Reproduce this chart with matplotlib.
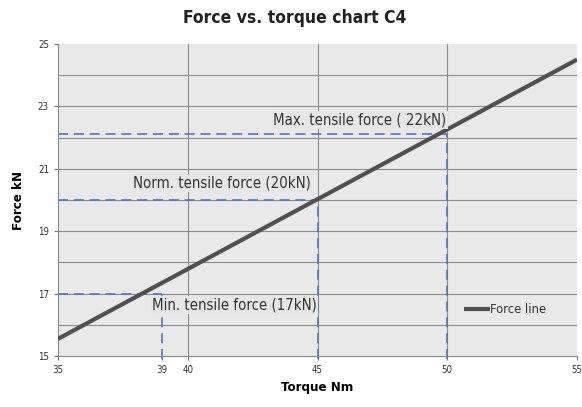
import matplotlib
matplotlib.use("Agg")
import matplotlib.pyplot as plt

# Data
torque_ends = [35, 55]
force_ends = [15.55, 24.5]
ref_torque = [39, 45, 50]
ref_force = [17, 20, 22.1]
ref_labels = ["Min. tensile force (17kN)", "Norm. tensile force (20kN)", "Max. tensile force ( 22kN)"]
x_ticks = [35, 39, 40, 45, 50, 55]
y_ticks = [15, 17, 19, 21, 23, 25]

plt.rcParams["font.family"] = ["DejaVu Sans"]
plt.rcParams["font.stretch"] = "condensed"

fig = plt.figure(figsize=(5.82, 4.07), dpi=100)
ax = fig.add_axes([58 / 582, 1 - 356 / 407, 519 / 582, 312 / 407])
ax.set_facecolor("#e9e9e9")
ax.set_xlim(35, 55)
ax.set_ylim(15, 25)

# grid
for y in range(16, 25):
    ax.axhline(y, color="#8c8c8c", lw=0.8, zorder=1)
for x in [40, 45, 50]:
    ax.axvline(x, color="#8c8c8c", lw=0.8, zorder=1)

# reference guides
for tx, fy in zip(ref_torque, ref_force):
    ax.plot([35, tx], [fy, fy], color="#4a78c4", lw=1.2, ls=(0, (6, 3.5)), zorder=2)
    ax.plot([tx, tx], [14.9, fy], color="#4a78c4", lw=1.2, ls=(0, (6, 3.5)),
            zorder=2, clip_on=False)

ax.plot(torque_ends, force_ends, color="#505050", lw=3, solid_capstyle="butt",
        zorder=3, label="Force line")

# annotation texts
label_pos = [(41.8, 16.65), (41.32, 20.55), (46.64, 22.56)]
for (lx, ly), txt in zip(label_pos, ref_labels):
    ax.text(lx, ly, txt, ha="center", va="center", fontsize=10.7, color="#333333",
            zorder=4, bbox=dict(boxstyle="square,pad=0.1", fc="#e6e6e6", ec="none"))

ax.set_xticks(x_ticks)
ax.set_yticks(y_ticks)
ax.tick_params(labelsize=7, length=3, color="#777777", labelcolor="#333333")
for s in ["top", "right"]:
    ax.spines[s].set_visible(False)
for s in ["left", "bottom"]:
    ax.spines[s].set_color("#888888")

ax.set_xlabel("Torque Nm", fontsize=9.5, fontweight="bold", labelpad=4)
ax.set_ylabel("Force kN", fontsize=9.5, fontweight="bold", labelpad=9)
fig.text(295 / 582, 1 - 18 / 407, "Force vs. torque chart C4", ha="center", va="center",
         fontsize=12.5, fontweight="bold", color="#222222")

leg = ax.legend(loc="lower right", bbox_to_anchor=(0.962, 0.09), frameon=False,
                fontsize=9.3, handlelength=2.0, handletextpad=0.0)
for t in leg.get_texts():
    t.set_color("#333333")

fig.savefig("out.png", dpi=100)
